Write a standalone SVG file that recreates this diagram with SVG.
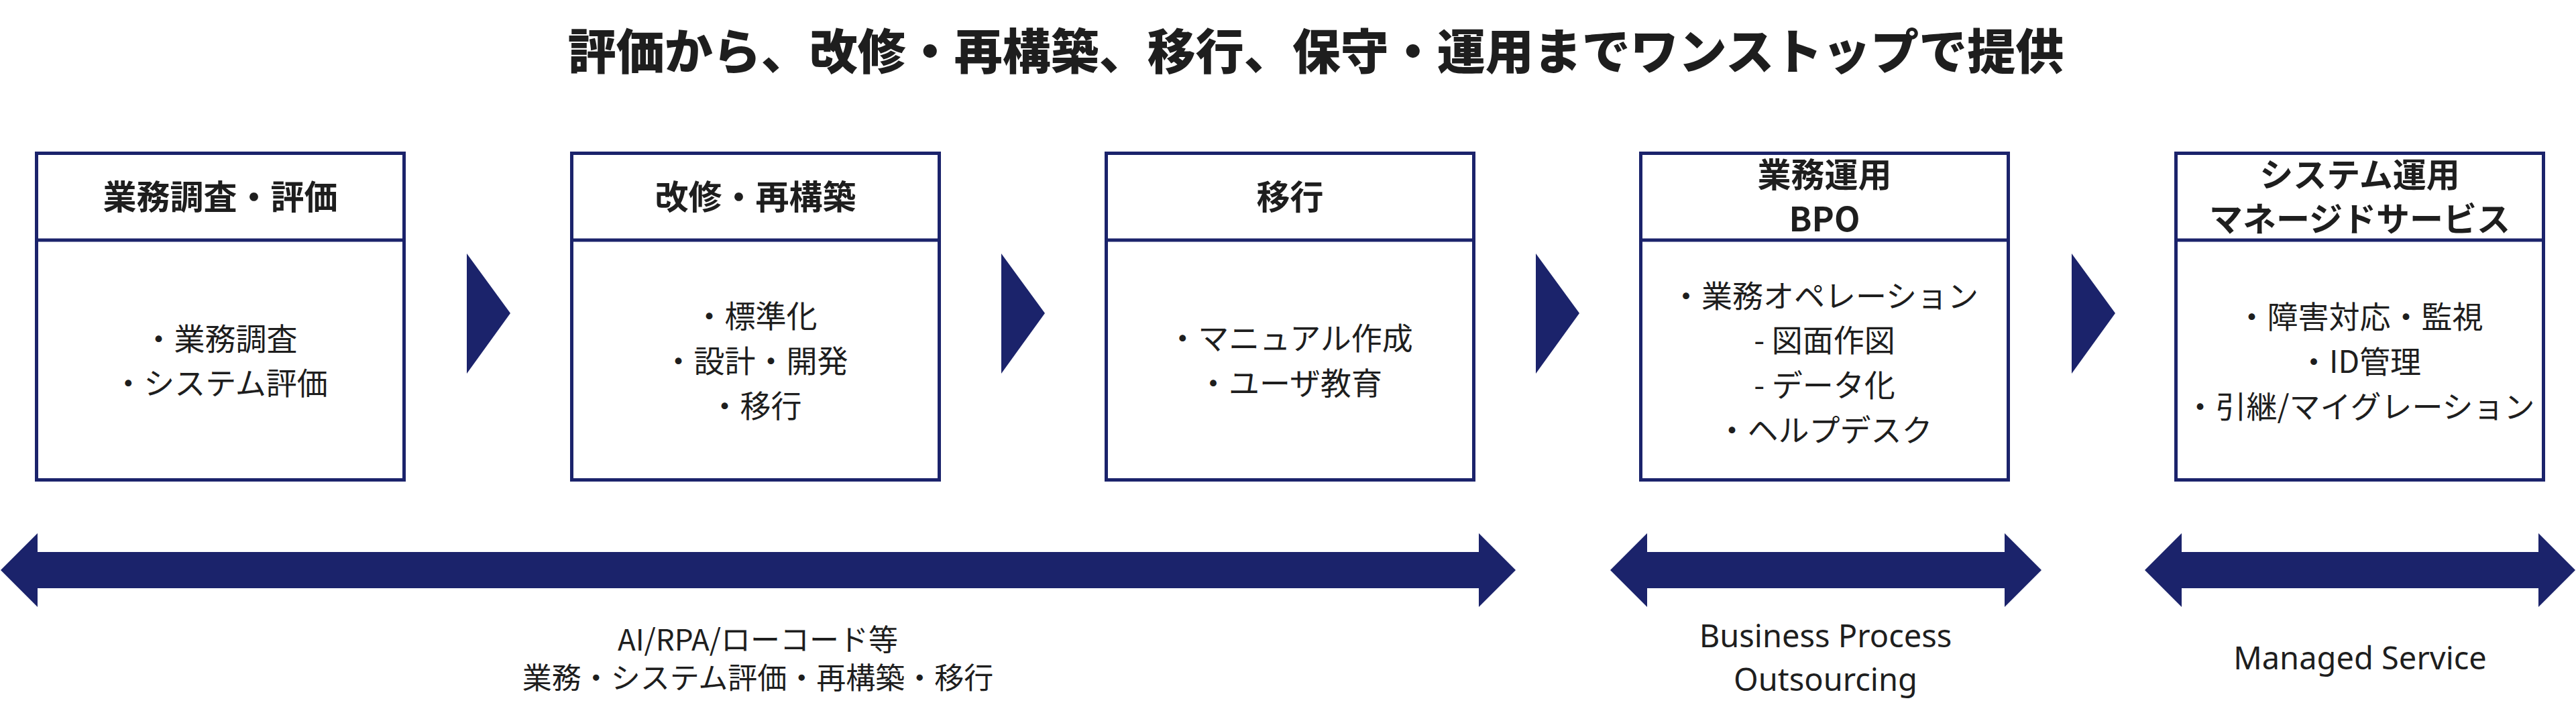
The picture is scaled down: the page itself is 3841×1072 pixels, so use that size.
<svg xmlns="http://www.w3.org/2000/svg" width="3841" height="1072" viewBox="0 0 3841 1072">
<style>
text { font-family: "Noto Sans CJK JP", "Noto Sans", sans-serif; fill: #1e1e1e; text-anchor: middle; dominant-baseline: central; }
.title { font-size: 72px; font-weight: 900; }
.head { font-size: 50px; font-weight: 700; }
.body { font-size: 46px; font-weight: 400; }
.lbl { font-size: 44px; font-weight: 400; }
.latin { font-family: "Noto Sans", "Noto Sans CJK JP", sans-serif; font-size: 47px; }
.box { fill: #ffffff; stroke: #1b236b; stroke-width: 5; }
.div { stroke: #1b236b; stroke-width: 5; }
.nav { fill: #1b236b; }
</style>
<rect width="3841" height="1072" fill="#ffffff"/>
<text class="title" x="1962" y="71">評価から、改修・再構築、移行、保守・運用までワンストップで提供</text>

<g id="node1">
  <rect class="box" x="54.5" y="228.5" width="548" height="487"/>
  <line class="div" x1="52" y1="358" x2="605" y2="358"/>
  <text class="head" x="328.5" y="290">業務調査・評価</text>
  <text class="body" x="328.5" y="502">・業務調査</text>
  <text class="body" x="328.5" y="568">・システム評価</text>
</g>
<g id="node2">
  <rect class="box" x="852.5" y="228.5" width="548" height="487"/>
  <line class="div" x1="850" y1="358" x2="1403" y2="358"/>
  <text class="head" x="1126.5" y="290">改修・再構築</text>
  <text class="body" x="1126.5" y="468">・標準化</text>
  <text class="body" x="1126.5" y="535">・設計・開発</text>
  <text class="body" x="1126.5" y="602">・移行</text>
</g>
<g id="node3">
  <rect class="box" x="1649.5" y="228.5" width="548" height="487"/>
  <line class="div" x1="1647" y1="358" x2="2200" y2="358"/>
  <text class="head" x="1923.5" y="290">移行</text>
  <text class="body" x="1923.5" y="501">・マニュアル作成</text>
  <text class="body" x="1923.5" y="568">・ユーザ教育</text>
</g>
<g id="node4">
  <rect class="box" x="2446.5" y="228.5" width="548" height="487"/>
  <line class="div" x1="2444" y1="358" x2="2997" y2="358"/>
  <text class="head" x="2720.5" y="257">業務運用</text>
  <text class="head" x="2720.5" y="323">BPO</text>
  <text class="body" x="2720.5" y="438">・業務オペレーション</text>
  <text class="body" x="2720.5" y="504">- 図面作図</text>
  <text class="body" x="2720.5" y="571">- データ化</text>
  <text class="body" x="2720.5" y="638">・ヘルプデスク</text>
</g>
<g id="node5">
  <rect class="box" x="3244.5" y="228.5" width="548" height="487"/>
  <line class="div" x1="3242" y1="358" x2="3795" y2="358"/>
  <text class="head" x="3518.5" y="257">システム運用</text>
  <text class="head" x="3518.5" y="323">マネージドサービス</text>
  <text class="body" x="3518.5" y="469">・障害対応・監視</text>
  <text class="body" x="3518.5" y="536">・ID管理</text>
  <text class="body" x="3518.5" y="603">・引継/マイグレーション</text>
</g>

<g id="connectors">
  <polygon class="nav" points="696,378 761,467 696,557"/>
  <polygon class="nav" points="1493,378 1558,467 1493,557"/>
  <polygon class="nav" points="2290,378 2355,467 2290,557"/>
  <polygon class="nav" points="3089,378 3154,467 3089,557"/>
  <path class="nav" d="M1,850 L56,795 L56,823 L2205,823 L2205,795 L2260,850 L2205,905 L2205,877 L56,877 L56,905 Z"/>
  <path class="nav" d="M2401,850 L2456,795 L2456,823 L2989,823 L2989,795 L3044,850 L2989,905 L2989,877 L2456,877 L2456,905 Z"/>
  <path class="nav" d="M3198,850 L3253,795 L3253,823 L3785,823 L3785,795 L3840,850 L3785,905 L3785,877 L3253,877 L3253,905 Z"/>
</g>

<g id="labels">
  <text class="lbl" x="1130" y="951">AI/RPA/ローコード等</text>
  <text class="lbl" x="1130" y="1008">業務・システム評価・再構築・移行</text>
  <text class="lbl latin" x="2722" y="947">Business Process</text>
  <text class="lbl latin" x="2722" y="1012">Outsourcing</text>
  <text class="lbl latin" x="3519" y="980">Managed Service</text>
</g>
</svg>
